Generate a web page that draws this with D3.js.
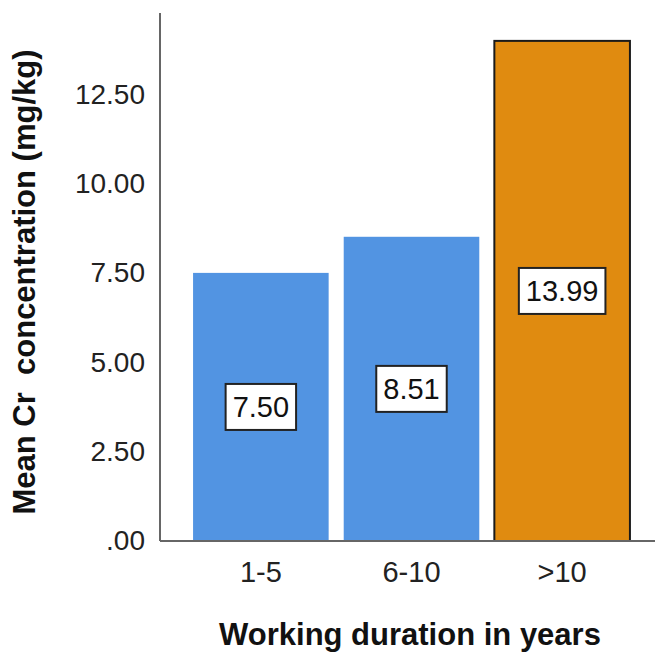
<!DOCTYPE html>
<html>
<head>
<meta charset="utf-8">
<script src="https://cdn.jsdelivr.net/npm/d3@7"></script>
<style>
  html, body { margin: 0; padding: 0; background: #fff; }
  svg { display: block; font-family: "Liberation Sans", Arial, sans-serif; }
</style>
</head>
<body>
<svg id="chart" width="655" height="656"></svg>
<script>
const categories = ["1-5", "6-10", ">10"];
const meanCr = [7.50, 8.51, 13.99];
const valueLabels = ["7.50", "8.51", "13.99"];
const yTickValues = [0, 2.5, 5, 7.5, 10, 12.5];
const yTickLabels = [".00", "2.50", "5.00", "7.50", "10.00", "12.50"];
const barColors = ["#5294e2", "#5294e2", "#e08b10"];
const xTitle = "Working duration in years";
const yTitle = "Mean Cr\u00a0\u00a0concentration (mg/kg)";

const svg = d3.select("#chart");
const axisX = 160, axisBottom = 541, axisTop = 13, axisRight = 655;

const y = d3.scaleLinear().domain([0, 14.77]).range([axisBottom, axisTop]);
const x = d3.scaleBand().domain(categories).range([178, 645]).paddingInner(0.1).paddingOuter(0.1);

// bars
const bars = svg.append("g");
bars.selectAll("rect").data(meanCr).join("rect")
  .attr("x", (d, i) => x(categories[i]))
  .attr("width", x.bandwidth())
  .attr("y", d => y(d))
  .attr("height", d => y(0) - y(d))
  .attr("fill", (d, i) => barColors[i])
  .attr("stroke", (d, i) => i === 2 ? "#1a1a1a" : "none")
  .attr("stroke-width", 2);

// axes
const yAxis = d3.axisLeft(y).tickValues(yTickValues)
  .tickFormat((d, i) => yTickLabels[i]).tickSize(0).tickPadding(15);
const gy = svg.append("g").attr("transform", `translate(${axisX},0)`).call(yAxis);
gy.select(".domain").remove();
gy.selectAll("text").attr("font-size", 28).attr("fill", "#222")
  .attr("font-family", "Liberation Sans, Arial, sans-serif");

const xAxis = d3.axisBottom(x).tickSize(0).tickPadding(20);
const gx = svg.append("g").attr("transform", `translate(0,${axisBottom})`).call(xAxis);
gx.select(".domain").remove();
gx.selectAll("text").attr("font-size", 29).attr("fill", "#222")
  .attr("font-family", "Liberation Sans, Arial, sans-serif");

svg.append("line").attr("x1", axisX).attr("x2", axisX).attr("y1", axisTop).attr("y2", axisBottom)
  .attr("stroke", "#666").attr("stroke-width", 2);
svg.append("line").attr("x1", axisX).attr("x2", axisRight).attr("y1", axisBottom).attr("y2", axisBottom)
  .attr("stroke", "#666").attr("stroke-width", 2);

// value labels with boxes
const lab = svg.append("g");
meanCr.forEach((v, i) => {
  const cx = x(categories[i]) + x.bandwidth() / 2;
  const cy = y(v / 2);
  const g = lab.append("g");
  const t = g.append("text").attr("x", cx).attr("y", cy).attr("text-anchor", "middle")
    .attr("dominant-baseline", "central").attr("font-size", 29).attr("fill", "#111")
    .text(valueLabels[i]);
  const w = t.node().getComputedTextLength();
  g.insert("rect", "text").attr("x", cx - w / 2 - 7).attr("y", cy - 23)
    .attr("width", w + 14).attr("height", 46)
    .attr("fill", "#fff").attr("stroke", "#222").attr("stroke-width", 2);
});

// titles
svg.append("text").attr("x", 410).attr("y", 645).attr("text-anchor", "middle")
  .attr("font-size", 31).attr("font-weight", "bold").attr("fill", "#111").text(xTitle);
svg.append("text").attr("transform", "translate(35,282) rotate(-90)").attr("text-anchor", "middle")
  .attr("font-size", 31).attr("font-weight", "bold").attr("fill", "#111").text(yTitle);
</script>
</body>
</html>
